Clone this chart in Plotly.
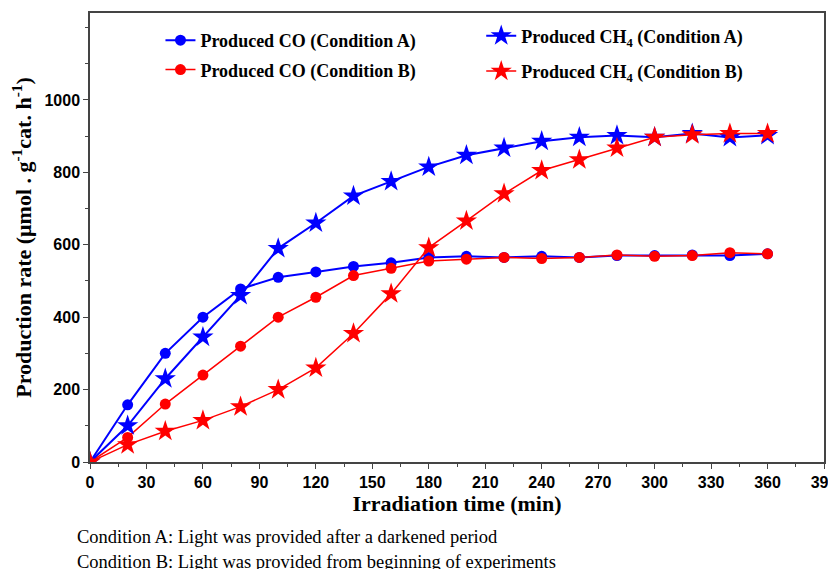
import plotly.graph_objects as go

time_min = [0, 20, 40, 60, 80, 100, 120, 140, 160, 180, 200, 220, 240, 260, 280, 300, 320, 340, 360]
co_a = [0, 158, 300, 400, 478, 510, 525, 540, 550, 565, 568, 565, 568, 565, 570, 570, 572, 570, 575]
co_b = [0, 68, 160, 240, 320, 400, 455, 515, 535, 555, 560, 565, 562, 565, 572, 568, 570, 578, 575]
ch4_a = [0, 100, 230, 345, 460, 590, 660, 735, 775, 815, 847, 867, 886, 897, 902, 897, 907, 896, 902]
ch4_b = [0, 48, 85, 115, 153, 200, 260, 355, 465, 592, 666, 741, 805, 835, 867, 897, 904, 907, 907]

x_ticks = list(range(0, 391, 30))
y_ticks = [0, 200, 400, 600, 800, 1000]

BLUE = "#0000ff"
RED = "#ff0000"

fig = go.Figure()
fig.add_trace(go.Scatter(x=time_min, y=co_a, mode="lines+markers", name="Produced CO (Condition A)",
                         legend="legend", legendgroup="g1",
                         line=dict(color=BLUE, width=2), marker=dict(symbol="circle", size=11, color=BLUE)))
fig.add_trace(go.Scatter(x=time_min, y=co_b, mode="lines+markers", name="Produced CO (Condition B)",
                         legend="legend", legendgroup="g2",
                         line=dict(color=RED, width=1.5), marker=dict(symbol="circle", size=11, color=RED)))
fig.add_trace(go.Scatter(x=time_min, y=ch4_a, mode="lines+markers", name="Produced CH<sub>4</sub> (Condition A)",
                         legend="legend2", legendgroup="g3",
                         line=dict(color=BLUE, width=2), marker=dict(symbol="star", size=16, color=BLUE)))
fig.add_trace(go.Scatter(x=time_min, y=ch4_b, mode="lines+markers", name="Produced CH<sub>4</sub> (Condition B)",
                         legend="legend2", legendgroup="g4",
                         line=dict(color=RED, width=1.5), marker=dict(symbol="star", size=16, color=RED)))

axis_common = dict(showline=True, linecolor="#444", linewidth=1.5, mirror=True, showgrid=False, zeroline=False,
                   ticks="outside", tickcolor="#444", ticklen=5, tickwidth=1.2, automargin=False,
                   ticklabeloverflow="allow",
                   tickfont=dict(family="Liberation Sans", size=16, color="black", weight="bold"))

fig.update_xaxes(range=[0, 390], tickmode="array", tickvals=x_ticks, ticktext=[str(v) for v in x_ticks],
                 minor=dict(dtick=15, tick0=0, ticks="outside", ticklen=3, tickcolor="#444"),
                 title=dict(text="Irradiation time (min)", standoff=4,
                            font=dict(family="Liberation Serif", size=22, color="black", weight="bold")),
                 **axis_common)
fig.update_yaxes(range=[0, 1240], tickmode="array", tickvals=y_ticks, ticktext=[str(v) for v in y_ticks],
                 minor=dict(dtick=100, tick0=0, ticks="outside", ticklen=3, tickcolor="#444"),
                 title=dict(text="Production rate (μmol . g<sup>-1</sup>cat. h<sup>-1</sup>)", standoff=12,
                            font=dict(family="Liberation Serif", size=22, color="black", weight="bold")),
                 **axis_common)

legend_font = dict(family="Liberation Serif", size=18, color="black", weight="bold")
fig.update_layout(
    width=828, height=561,
    margin=dict(l=82, r=12, t=5, b=107, autoexpand=False),
    paper_bgcolor="white", plot_bgcolor="white",
    font=dict(family="Liberation Serif", color="black"),
    legend=dict(orientation="v", x=0.096, y=0.98, xanchor="left", yanchor="top",
                bgcolor="rgba(0,0,0,0)", tracegroupgap=3, font=legend_font),
    legend2=dict(orientation="v", x=0.533, y=0.99, xanchor="left", yanchor="top",
                 bgcolor="rgba(0,0,0,0)", tracegroupgap=9, font=legend_font),
    annotations=[
        dict(text="Condition A: Light was provided after a darkened period", xref="paper", yref="paper",
             x=-0.021, y=-0.167, xanchor="left", yanchor="middle", showarrow=False,
             font=dict(family="Liberation Serif", size=18.5, color="black")),
        dict(text="Condition B: Light was provided from beginning of experiments", xref="paper", yref="paper",
             x=-0.021, y=-0.222, xanchor="left", yanchor="middle", showarrow=False,
             font=dict(family="Liberation Serif", size=18.5, color="black")),
    ],
)

fig.write_html("out.html")
